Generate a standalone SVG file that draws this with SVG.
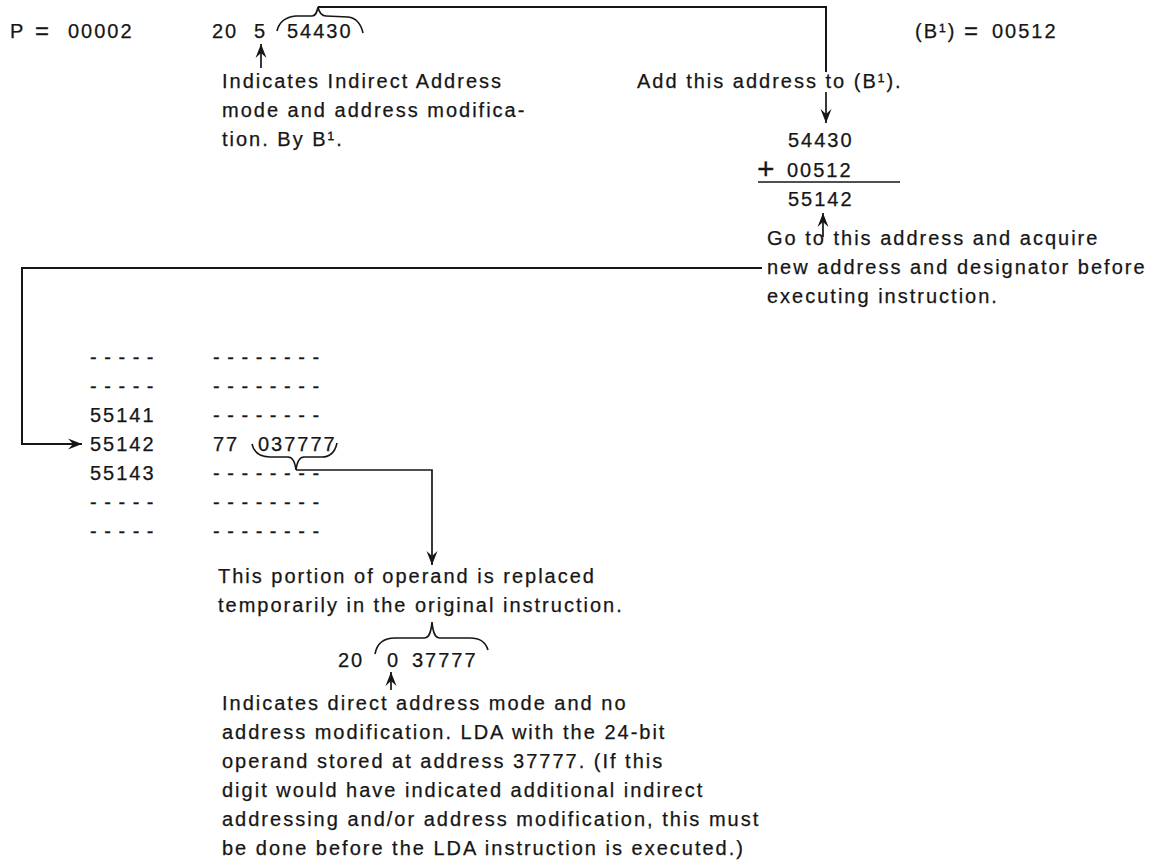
<svg xmlns="http://www.w3.org/2000/svg" width="1150" height="862" viewBox="0 0 1150 862">
<defs>
<marker id="ah" viewBox="-14 -6 15 12" refX="0" refY="0" markerWidth="15" markerHeight="12" markerUnits="userSpaceOnUse" orient="auto">
<path d="M0,0 L-14,-5.5 L-9,0 L-14,5.5 Z" fill="#161616"/>
</marker>
<style>
text{font-family:"Liberation Sans",Arial,Helvetica,sans-serif;font-size:20px;letter-spacing:2px;fill:#161616;stroke:#161616;stroke-width:0.25px}
.dash{letter-spacing:1px}
.eq{font-size:24px;letter-spacing:0}
.plus{font-size:30px;letter-spacing:0}
.ln{fill:none;stroke:#161616;stroke-width:2}
.ar{fill:none;stroke:#161616;stroke-width:1.7;marker-end:url(#ah)}
.br{fill:none;stroke:#161616;stroke-width:1.6}
</style>
</defs>
<rect width="1150" height="862" fill="#fff"/>

<g id="connectors">
<path class="ln" d="M318,7 H826 V72"/>
<path class="ar" d="M826,92 V123"/>
<path class="ar" d="M261,68 V44"/>
<path class="ar" d="M823,237 V213"/>
<path class="ar" style="stroke-width:2" d="M762,268 H22 V444 H82"/>
<path class="ar" d="M296,470 H432 V565"/>
<path class="ar" d="M391,690 V672"/>
</g>

<g id="reg-p">
<text y="38"><tspan x="10">P</tspan><tspan x="35" y="39" class="eq">=</tspan><tspan x="68" y="38">00002</tspan></text>
</g>

<g id="instr-1">
<text y="38"><tspan x="212">20</tspan><tspan x="254">5</tspan><tspan x="287">54430</tspan></text>
<path class="br" d="M277,31 C279,22 286,17 296,16 L312,16 C316,16 317,12 318,7 C319,12 321,16 326,16 L348,17 C356,18 361,24 363,33"/>
</g>

<g id="reg-b1">
<text y="38"><tspan x="915">(B¹)</tspan><tspan x="964" y="39" class="eq">=</tspan><tspan x="992" y="38">00512</tspan></text>
</g>

<g id="note-indirect">
<text x="222" y="88">Indicates Indirect Address</text>
<text x="222" y="117">mode and address modifica-</text>
<text x="222" y="146">tion. By B¹.</text>
</g>

<g id="note-add">
<text x="637" y="88">Add this address to (B¹).</text>
</g>

<g id="sum">
<text x="788" y="147">54430</text>
<text x="757" y="179" class="plus">+</text>
<text x="787" y="177">00512</text>
<path class="br" d="M758,182 H900"/>
<text x="788" y="206">55142</text>
</g>

<g id="note-goto">
<text x="767" y="245">Go to this address and acquire</text>
<text x="767" y="274">new address and designator before</text>
<text x="767" y="303">executing instruction.</text>
</g>

<g id="memory">
<text x="90" y="364" class="dash">- - - - -</text>
<text x="90" y="393" class="dash">- - - - -</text>
<text x="90" y="422">55141</text>
<text x="90" y="451">55142</text>
<text x="90" y="480">55143</text>
<text x="90" y="509" class="dash">- - - - -</text>
<text x="90" y="538" class="dash">- - - - -</text>
<text x="213" y="364" class="dash">- - - - - - - -</text>
<text x="213" y="393" class="dash">- - - - - - - -</text>
<text x="213" y="422" class="dash">- - - - - - - -</text>
<text y="451"><tspan x="213">77</tspan><tspan x="258">037777</tspan></text>
<path class="br" d="M252,444 C254,453 260,457 270,457 L288,457 C293,457 295,462 296,470 C297,462 299,457 304,457 L322,457 C331,457 335,452 337,443"/>
<text x="213" y="480" class="dash">- - - - - - - -</text>
<text x="213" y="509" class="dash">- - - - - - - -</text>
<text x="213" y="538" class="dash">- - - - - - - -</text>
</g>

<g id="note-portion">
<text x="218" y="583">This portion of operand is replaced</text>
<text x="218" y="612">temporarily in the original instruction.</text>
</g>

<g id="instr-2">
<text y="667"><tspan x="338">20</tspan><tspan x="387">0</tspan><tspan x="412">37777</tspan></text>
<path class="br" d="M375,654 C377,643 384,638 395,638 L424,638 C429,638 431,633 432,622 C433,633 435,638 440,638 L470,638 C480,638 486,643 488,650"/>
</g>

<g id="note-direct">
<text x="222" y="710">Indicates direct address mode and no</text>
<text x="222" y="739">address modification. LDA with the 24-bit</text>
<text x="222" y="768">operand stored at address 37777. (If this</text>
<text x="222" y="797">digit would have indicated additional indirect</text>
<text x="222" y="826">addressing and/or address modification, this must</text>
<text x="222" y="855">be done before the LDA instruction is executed.)</text>
</g>
</svg>
